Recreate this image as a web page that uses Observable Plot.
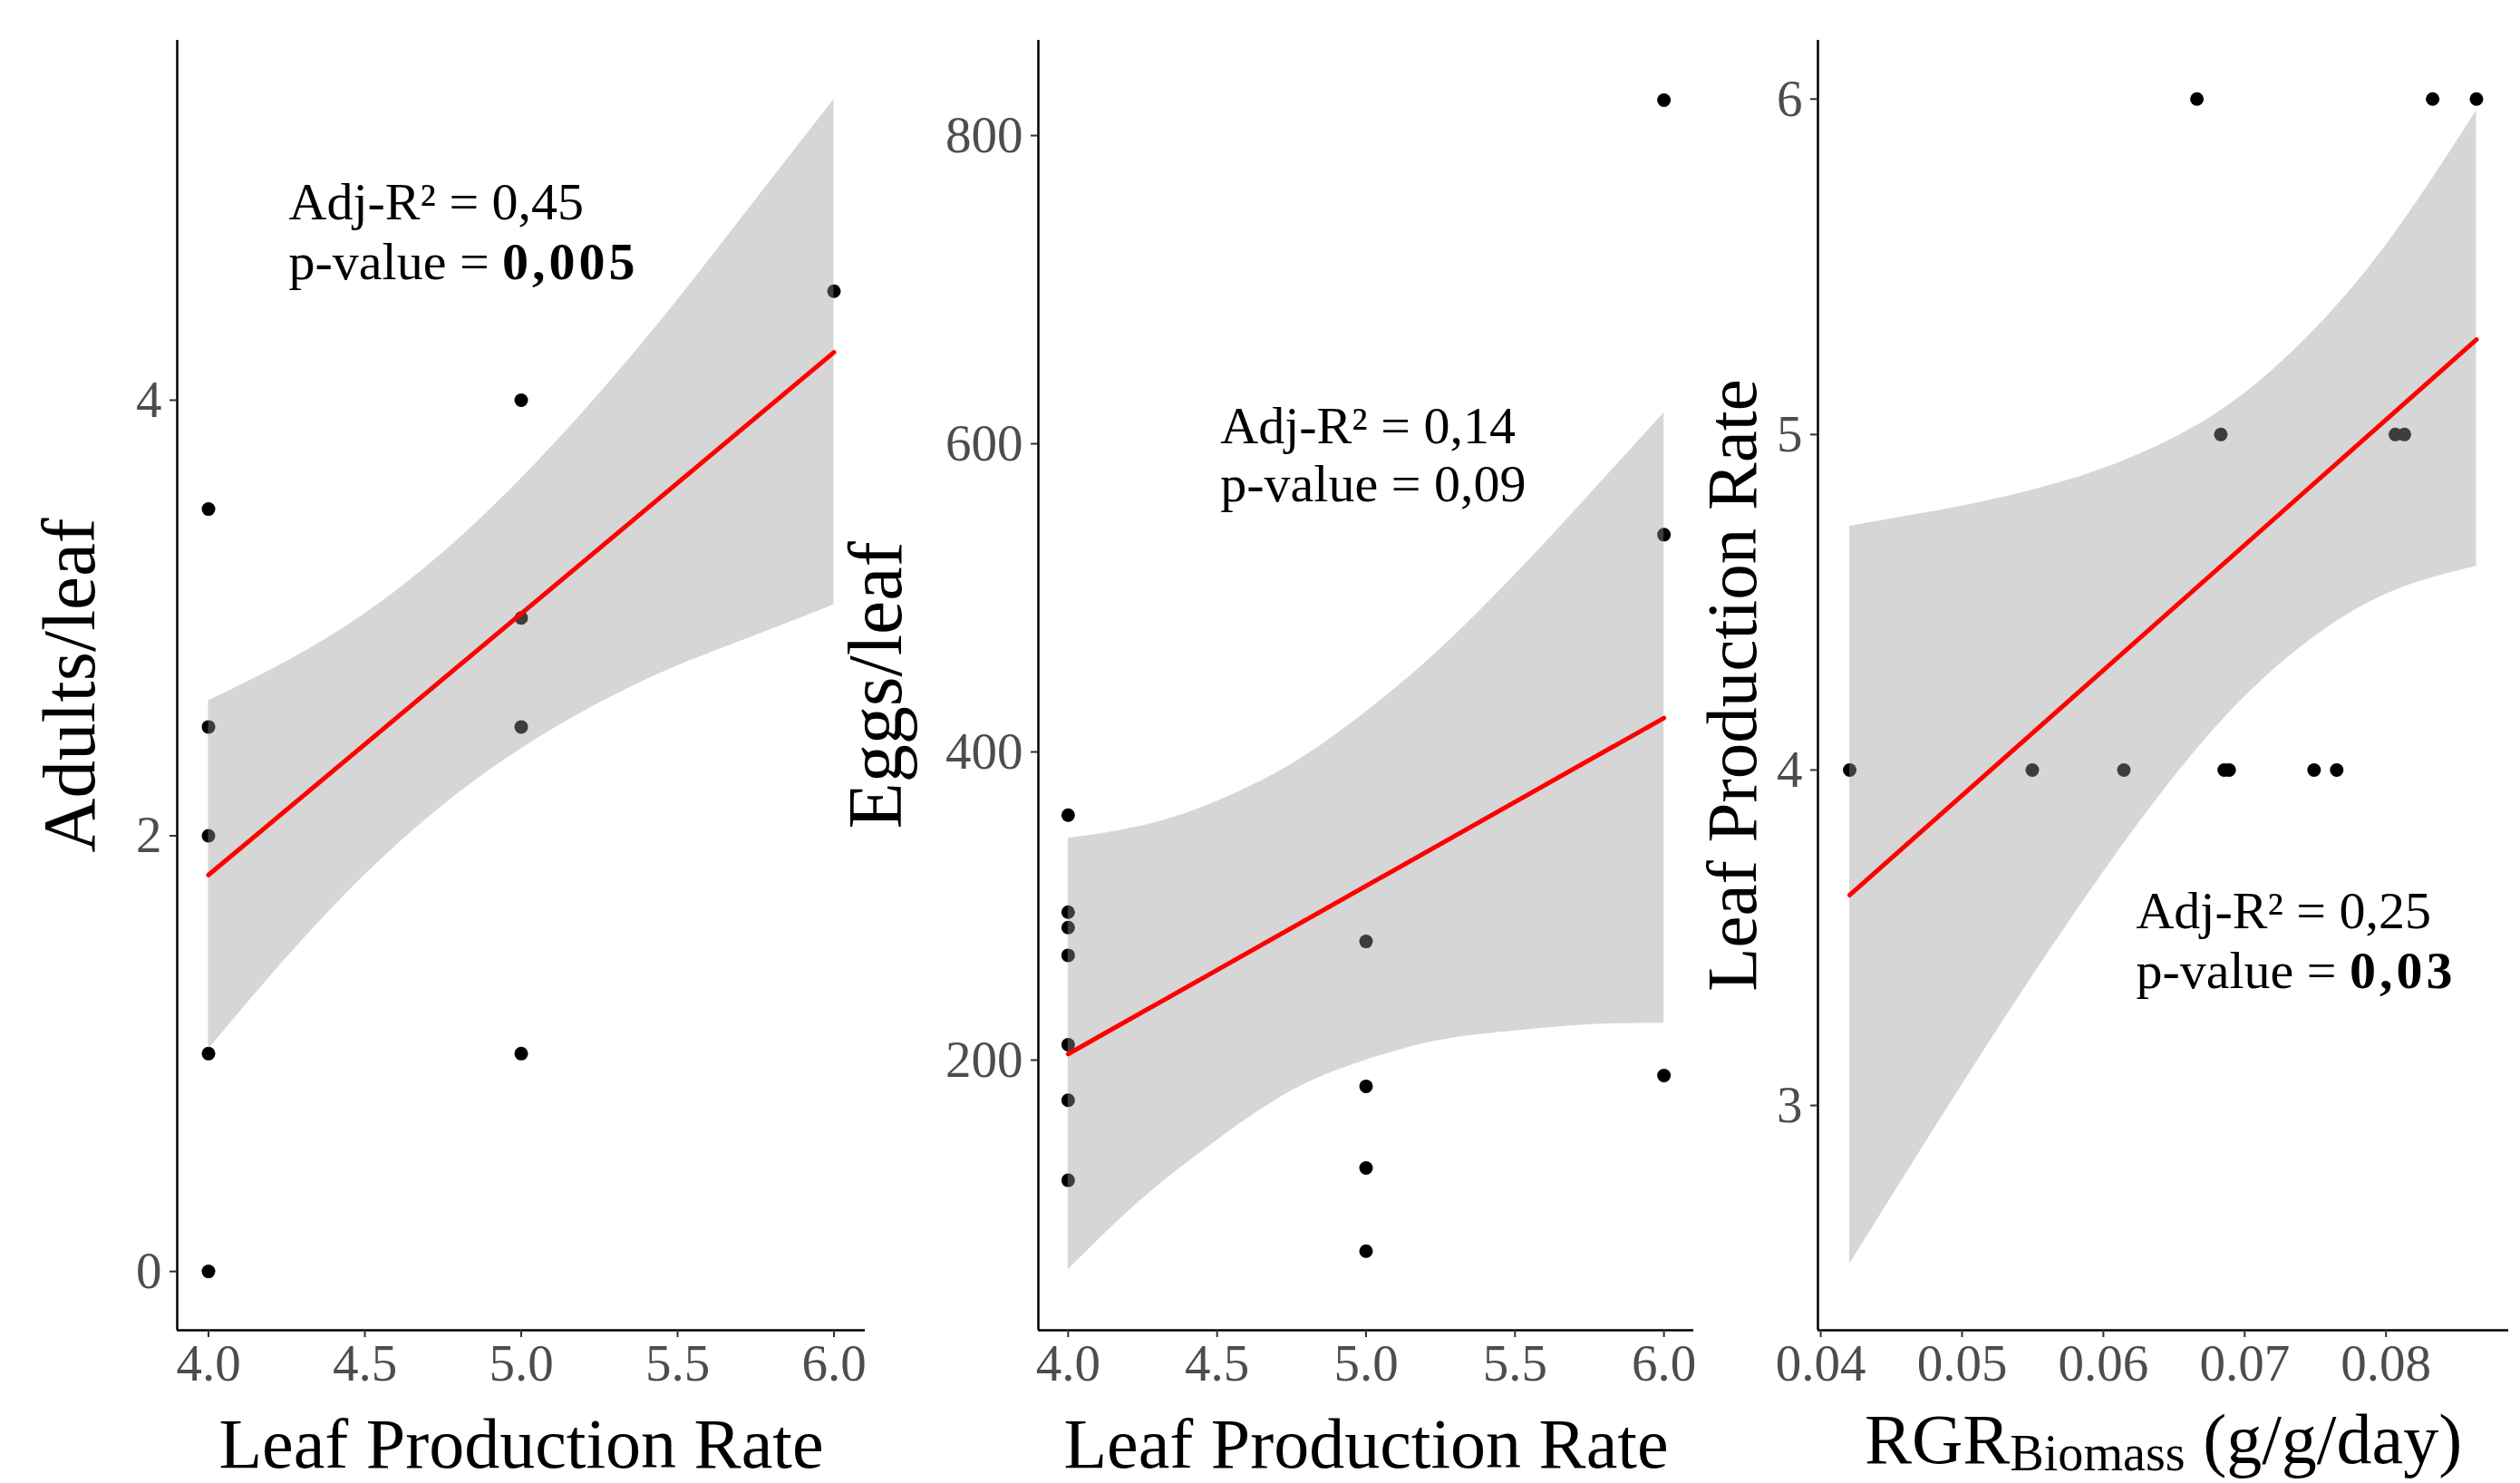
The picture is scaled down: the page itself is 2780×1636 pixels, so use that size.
<!DOCTYPE html>
<html><head><meta charset="utf-8">
<script src="https://cdn.jsdelivr.net/npm/d3@7"></script>
<script src="https://cdn.jsdelivr.net/npm/@observablehq/plot@0.6"></script>
<style>
html,body{margin:0;padding:0;background:#fff;}
#wrap{position:relative;width:2780px;height:1636px;background:#fff;overflow:hidden;}
.panel{position:absolute;top:0;}
.panel svg{overflow:visible;max-width:none;display:block;}
</style></head><body><div id="wrap"></div>
<script>
// ---------- Panel 1: Adults/leaf vs Leaf Production Rate ----------
const adultsLPR = [4, 4, 4, 4, 4, 5, 5, 5, 5, 6];
const adultsPerLeaf = [3.5, 2.5, 2, 1, 0, 4, 3, 2.5, 1, 4.5];
const adultsBandX = [4, 4.25, 4.5, 4.75, 5, 5.25, 5.5, 5.75, 6];
const adultsBandLo = [1.02, 1.44, 1.82, 2.14, 2.40, 2.61, 2.78, 2.92, 3.06];
const adultsBandHi = [2.62, 2.80, 3.02, 3.30, 3.64, 4.03, 4.46, 4.92, 5.38];
const adultsFitX = [4, 6];
const adultsFitY = [1.82, 4.22];
const adultsNote = ["Adj-R\u00B2 = 0,45", "p-value = **0,005**"];

// ---------- Panel 2: Eggs/leaf vs Leaf Production Rate ----------
const eggsLPR = [4, 4, 4, 4, 4, 4, 4, 5, 5, 5, 5, 6, 6, 6];
const eggsPerLeaf = [359, 296, 286, 268, 210, 174, 122, 277, 183, 130, 76, 823, 541, 190];
const eggsBandX = [4, 4.25, 4.5, 4.75, 5, 5.25, 5.5, 5.75, 6];
const eggsBandLo = [64, 110, 148, 180, 200, 213, 219, 223, 224];
const eggsBandHi = [344, 352, 368, 392, 426, 467, 515, 567, 620];
const eggsFitX = [4, 6];
const eggsFitY = [204, 422];
const eggsNote = ["Adj-R\u00B2 = 0,14", "p-value = 0,09"];

// ---------- Panel 3: Leaf Production Rate vs RGR Biomass ----------
const rgrBiomass = [0.04205, 0.05497, 0.06145, 0.06855, 0.0689, 0.07491, 0.07651, 0.06831, 0.08066, 0.0813, 0.06662, 0.0833, 0.0864];
const leafRate = [4, 4, 4, 4, 4, 4, 4, 5, 5, 5, 6, 6, 6];
const rgrBandX = [0.04205, 0.0475, 0.053, 0.0585, 0.064, 0.0695, 0.075, 0.0805, 0.0864];
const rgrBandLo = [2.527, 2.895, 3.258, 3.605, 3.925, 4.197, 4.399, 4.533, 4.607];
const rgrBandHi = [4.727, 4.767, 4.814, 4.877, 4.969, 5.107, 5.315, 5.593, 5.965];
const rgrFitX = [0.04205, 0.0864];
const rgrFitY = [3.627, 5.283];
const rgrNote = ["Adj-R\u00B2 = 0,25", "p-value = **0,03**"];

// tick labels
const lprTicks = [4, 4.5, 5, 5.5, 6];
const adultsTicks = [0, 2, 4];
const eggsTicks = [200, 400, 600, 800];
const rgrTicks = [0.04, 0.05, 0.06, 0.07, 0.08];
const leafRateTicks = [3, 4, 5, 6];

const FONT = "'Liberation Serif', 'Times New Roman', serif";
const zipXY = (xs, ys) => xs.map((x, i) => ({x, y: ys[i]}));
const band = (xs, lo, hi) => xs.map((x, i) => ({x, lo: lo[i], hi: hi[i]}));

function richify(svg) {
  svg.querySelectorAll("text").forEach(t => {
    if (t.querySelector("tspan")) return;
    const s = t.textContent;
    if (!s.includes("**") && !s.includes("_{")) return;
    t.textContent = "";
    const re = /\*\*(.+?)\*\*|_\{(.+?)\}/g;
    let last = 0, m, shift = 0;
    const SUB = 8;
    const add = (txt, attrs) => {
      const ts = document.createElementNS("http://www.w3.org/2000/svg", "tspan");
      ts.textContent = txt;
      for (const k in attrs) ts.setAttribute(k, attrs[k]);
      if (shift) { ts.setAttribute("dy", -shift); shift = 0; }
      t.appendChild(ts);
      return ts;
    };
    while ((m = re.exec(s))) {
      if (m.index > last) add(s.slice(last, m.index), {});
      if (m[1]) add(m[1], {"font-weight": "bold", "letter-spacing": "4px"});
      else { const ts = add(m[2], {"font-size": "0.72em"}); ts.setAttribute("dy", SUB); shift = SUB; }
      last = re.lastIndex;
    }
    if (last < s.length) add(s.slice(last), {});
  });
}

function panel(o) {
  const plot = Plot.plot({
    width: o.width, height: 1636,
    marginTop: 44, marginBottom: 169, marginLeft: o.marginLeft, marginRight: o.marginRight,
    style: {fontFamily: FONT, background: "transparent", overflow: "visible"},
    x: {domain: o.xDomain},
    y: {domain: o.yDomain},
    marks: [
      Plot.dot(o.points, {x: "x", y: "y", r: 7.5, fill: "#000", stroke: "none"}),
      Plot.areaY(o.band, {x: "x", y1: "lo", y2: "hi", fill: "#999999", fillOpacity: 0.4, curve: "natural"}),
      Plot.line(o.fit, {x: "x", y: "y", stroke: "#ff0000", strokeWidth: 5}),
      Plot.ruleY([o.yDomain[0]], {stroke: "#000", strokeWidth: 2.5}),
      Plot.ruleX([o.xDomain[0]], {stroke: "#000", strokeWidth: 2.5}),
      Plot.axisX({ticks: o.xTicks, tickFormat: d3.format(o.xFormat), tickSize: 8, tickPadding: 7,
        fontSize: 57, fill: "#4d4d4d", stroke: "#333", strokeWidth: 2, label: null}),
      Plot.axisY({ticks: o.yTicks, tickFormat: d3.format("d"), tickSize: 8, tickPadding: 9,
        fontSize: 57, fill: "#4d4d4d", stroke: "#333", strokeWidth: 2, label: null}),
      Plot.text(o.note.map((t, i) => ({t, x: o.noteX, y: o.noteY[i]})),
        {x: "x", y: "y", text: "t", textAnchor: "start", lineAnchor: "bottom", fontSize: 58, fill: "#000"}),
      Plot.text([o.xTitle], {text: d => d, frameAnchor: "bottom", textAnchor: "middle", dy: o.xTitleDy, lineAnchor: "bottom", fontSize: 78, fill: "#000"}),
      Plot.text([o.yTitle], {text: d => d, frameAnchor: "left", textAnchor: "middle", rotate: -90, dx: o.yTitleDx, lineAnchor: "bottom", fontSize: o.yTitleSize, fill: "#000"})
    ]
  });
  plot.style.overflow = "visible";
  plot.style.maxWidth = "none";
  richify(plot);
  const div = document.createElement("div");
  div.className = "panel";
  div.style.left = o.left + "px";
  div.style.width = o.width + "px";
  div.appendChild(plot);
  document.getElementById("wrap").appendChild(div);
}

panel({
  left: 0, width: 970, marginLeft: 195, marginRight: 16,
  xDomain: [3.9, 6.1], yDomain: [-0.27, 5.652],
  xTicks: lprTicks, xFormat: ".1f", yTicks: adultsTicks,
  points: zipXY(adultsLPR, adultsPerLeaf),
  band: band(adultsBandX, adultsBandLo, adultsBandHi),
  fit: zipXY(adultsFitX, adultsFitY),
  note: adultsNote, noteX: 4.2565, noteY: [4.828, 4.554],
  xTitle: "Leaf Production Rate", xTitleDy: 151,
  yTitle: "Adults/leaf", yTitleDx: -92, yTitleSize: 83
});

panel({
  left: 970, width: 930, marginLeft: 175, marginRight: 32,
  xDomain: [3.9, 6.1], yDomain: [24.7, 861.8],
  xTicks: lprTicks, xFormat: ".1f", yTicks: eggsTicks,
  points: zipXY(eggsLPR, eggsPerLeaf),
  band: band(eggsBandX, eggsBandLo, eggsBandHi),
  fit: zipXY(eggsFitX, eggsFitY),
  note: eggsNote, noteX: 4.511, noteY: [600.6, 562.4],
  xTitle: "Leaf Production Rate", xTitleDy: 151,
  yTitle: "Eggs/leaf", yTitleDx: -152, yTitleSize: 84
});

panel({
  left: 1900, width: 880, marginLeft: 105, marginRight: 13,
  xDomain: [0.0398, 0.08868], yDomain: [2.33, 6.175],
  xTicks: rgrTicks, xFormat: ".2f", yTicks: leafRateTicks,
  points: zipXY(rgrBiomass, leafRate),
  band: band(rgrBandX, rgrBandLo, rgrBandHi),
  fit: zipXY(rgrFitX, rgrFitY),
  note: rgrNote, noteX: 0.06231, noteY: [3.529, 3.351],
  xTitle: "RGR_{Biomass} (g/g/day)", xTitleDy: 146,
  yTitle: "Leaf Production Rate", yTitleDx: -69, yTitleSize: 79
});
</script></body></html>
